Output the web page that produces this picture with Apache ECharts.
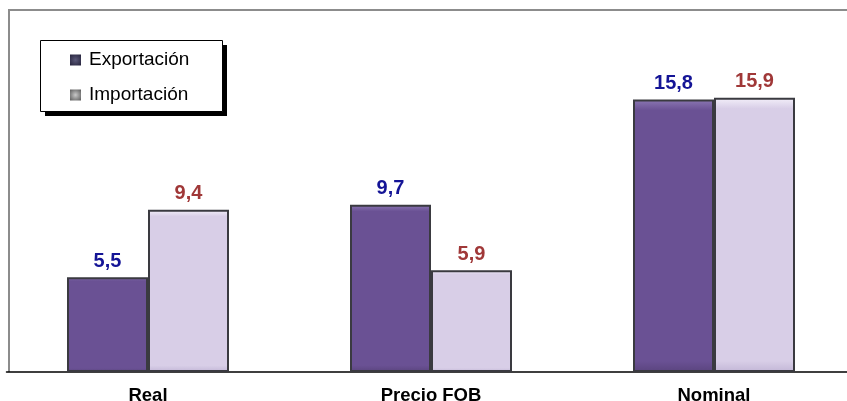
<!DOCTYPE html>
<html>
<head>
<meta charset="utf-8">
<script src="https://cdn.jsdelivr.net/npm/echarts@6/dist/echarts.min.js"></script>
<style>
html,body{margin:0;padding:0;background:#fff;}
#chart{width:847px;height:401px;}
</style>
</head>
<body>
<div id="chart"></div>
<script>
const categories = ['Real', 'Precio FOB', 'Nominal'];
const exportacion = [5.5, 9.7, 15.8];
const importacion = [9.4, 5.9, 15.9];
const seriesNames = ['Exportación', 'Importación'];

const FONT = 'Liberation Sans, Arial, Helvetica, sans-serif';
const fmt = v => String(v.value).replace('.', ',');

function vgrad(top, mid, bottom) {
  return {
    type: 'linear', x: 0, y: 0, x2: 0, y2: 1,
    colorStops: [
      { offset: 0, color: top },
      { offset: 0.04, color: mid },
      { offset: 0.96, color: mid },
      { offset: 1, color: bottom }
    ]
  };
}

const chart = echarts.init(document.getElementById('chart'), null, { renderer: 'canvas' });
chart.setOption({
  animation: false,
  backgroundColor: '#ffffff',
  graphic: [
    {
      type: 'polyline',
      shape: { points: [[9, 372], [9, 10], [847, 10]] },
      style: { fill: 'none', stroke: '#8c8c8c', lineWidth: 2 },
      z: 0
    },
    {
      type: 'rect',
      shape: { x: 45, y: 45, width: 182, height: 71 },
      style: { fill: '#000000' },
      z: 10
    },
    {
      type: 'rect',
      shape: { x: 40.5, y: 40.5, width: 182, height: 71 },
      style: { fill: '#ffffff', stroke: '#000000', lineWidth: 1 },
      z: 11
    }
  ],
  grid: { left: 6.5, width: 849, top: 9.75, height: 362.25, outerBoundsMode: 'none', containLabel: false },
  legend: {
    orient: 'vertical',
    left: 40,
    top: 41,
    padding: [9, 30, 7, 30],
    itemGap: 15,
    itemWidth: 11,
    itemHeight: 11,
    icon: 'rect',
    z: 20,
    textStyle: { fontFamily: FONT, fontSize: 19, color: '#000', lineHeight: 20, padding: [0, 0, 0, 3] },
    data: [
      { name: seriesNames[0], itemStyle: { color: { type: 'radial', x: 0.5, y: 0.5, r: 0.7, colorStops: [{ offset: 0, color: '#5a5878' }, { offset: 1, color: '#24223a' }] }, borderWidth: 0 } },
      { name: seriesNames[1], itemStyle: { color: { type: 'radial', x: 0.5, y: 0.5, r: 0.7, colorStops: [{ offset: 0, color: '#c8c8c8' }, { offset: 1, color: '#5a5a5a' }] }, borderWidth: 0 } }
    ]
  },
  xAxis: {
    type: 'category',
    data: categories,
    axisLine: { show: true, lineStyle: { color: '#000', width: 1.5 } },
    axisTick: { show: false },
    axisLabel: { fontFamily: FONT, fontSize: 18.5, fontWeight: 'bold', color: '#000', margin: 14 },
    splitLine: { show: false }
  },
  yAxis: {
    type: 'value',
    min: 0,
    max: 21,
    show: false,
    splitLine: { show: false }
  },
  series: [
    {
      name: seriesNames[0],
      type: 'bar',
      data: exportacion,
      barWidth: 81,
      barGap: '0%',
      itemStyle: {
        color: vgrad('#8c78b4', '#6a5194', '#5a447e'),
        borderColor: '#3a3a40',
        borderWidth: 2
      },
      label: {
        show: true,
        position: 'top',
        distance: 6,
        formatter: fmt,
        fontFamily: FONT,
        fontSize: 20,
        fontWeight: 'bold',
        color: '#141496'
      }
    },
    {
      name: seriesNames[1],
      type: 'bar',
      data: importacion,
      barWidth: 81,
      barGap: '0%',
      itemStyle: {
        color: vgrad('#f4f0fa', '#d8cee7', '#c2b6d6'),
        borderColor: '#3a3a40',
        borderWidth: 2
      },
      label: {
        show: true,
        position: 'top',
        distance: 6,
        formatter: fmt,
        fontFamily: FONT,
        fontSize: 20,
        fontWeight: 'bold',
        color: '#a03838'
      }
    }
  ]
});
</script>
</body>
</html>
